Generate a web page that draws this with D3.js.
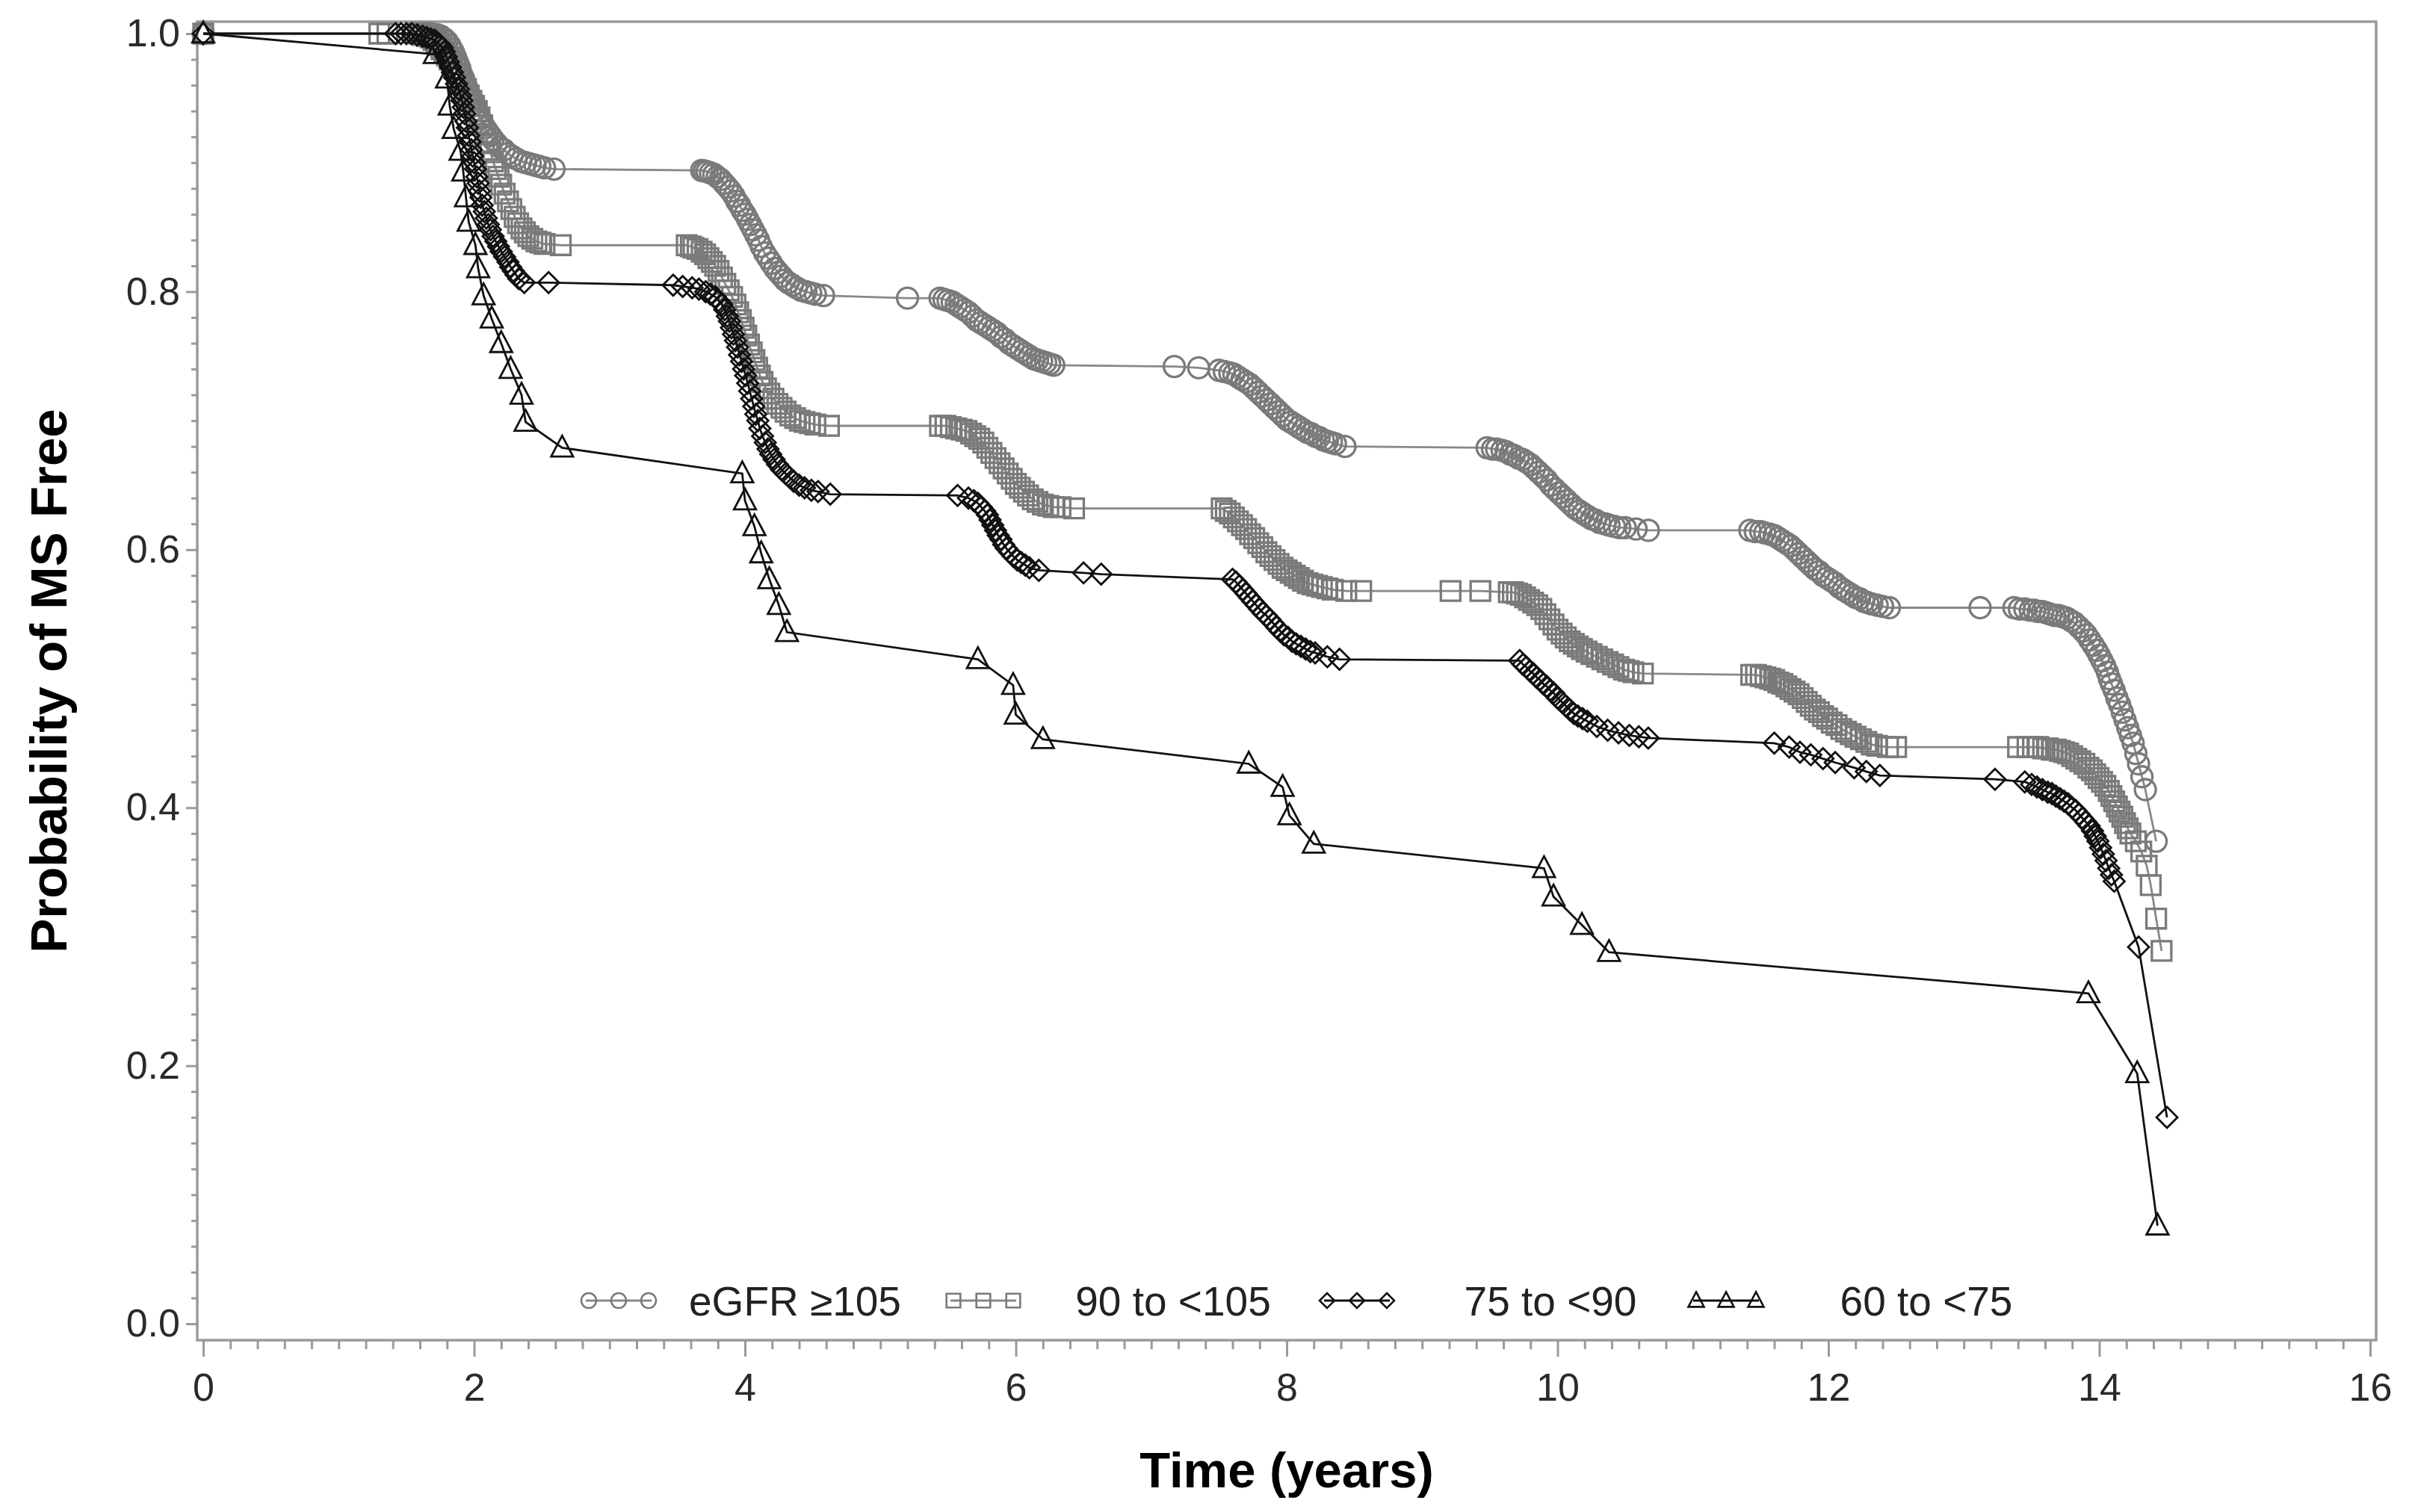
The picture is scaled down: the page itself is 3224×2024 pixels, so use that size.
<!DOCTYPE html>
<html><head><meta charset="utf-8">
<script src="https://cdn.jsdelivr.net/npm/d3@7"></script>
<style>html,body{margin:0;padding:0;background:#fff;}</style>
</head><body>
<svg id="chart" width="3224" height="2024"></svg>
<script>
// ---------------- DATA ----------------
const seriesNames = ["eGFR \u2265105", "90 to <105", "75 to <90", "60 to <75"];
const xTickValues = [0, 2, 4, 6, 8, 10, 12, 14, 16];
const xTickLabels = ["0", "2", "4", "6", "8", "10", "12", "14", "16"];
const yTickValues = [0, 0.2, 0.4, 0.6, 0.8, 1.0];
const yTickLabels = ["0.0", "0.2", "0.4", "0.6", "0.8", "1.0"];
const xTitle = "Time (years)";
const yTitle = "Probability of MS Free";

// [time (years), probability]
const pointsEgfr105 = [
  [0,1.000],
  [1.55,1.000],[1.59,1.000],[1.62,1.000],[1.65,1.000],[1.68,1.000],[1.71,0.999],[1.73,0.999],[1.755,0.998],[1.78,0.996],[1.80,0.994],
  [1.82,0.991],[1.835,0.988],[1.85,0.985],[1.865,0.981],[1.88,0.977],[1.895,0.973],[1.91,0.968],[1.925,0.964],[1.94,0.959],[1.955,0.956],
  [1.97,0.952],[1.985,0.949],[2.00,0.945],[2.015,0.941],[2.03,0.938],[2.045,0.934],[2.06,0.931],[2.08,0.927],[2.10,0.924],[2.12,0.921],
  [2.14,0.918],[2.165,0.915],[2.19,0.912],[2.22,0.910],[2.25,0.907],[2.28,0.905],[2.31,0.903],[2.345,0.901],[2.38,0.900],[2.415,0.899],
  [2.45,0.898],[2.485,0.897],[2.52,0.896],[2.59,0.895],
  [3.68,0.894],[3.70,0.8935],[3.72,0.893],[3.745,0.892],[3.77,0.891],[3.795,0.889],[3.82,0.887],[3.845,0.884],[3.87,0.881],[3.895,0.878],
  [3.92,0.874],[3.94,0.870],[3.96,0.867],[3.98,0.863],[4.00,0.860],[4.02,0.856],[4.04,0.852],[4.06,0.848],[4.08,0.844],[4.10,0.840],
  [4.12,0.835],[4.145,0.830],[4.17,0.826],[4.195,0.822],[4.22,0.818],[4.245,0.815],[4.27,0.812],[4.295,0.809],[4.32,0.807],[4.35,0.805],
  [4.38,0.803],[4.415,0.801],[4.45,0.800],[4.485,0.799],[4.52,0.798],[4.58,0.797],
  [5.20,0.795],[5.44,0.795],[5.47,0.794],[5.50,0.793],[5.53,0.792],[5.56,0.790],[5.59,0.788],[5.62,0.786],[5.65,0.784],[5.68,0.781],
  [5.71,0.778],[5.74,0.776],[5.77,0.774],[5.80,0.772],[5.83,0.770],[5.86,0.768],[5.89,0.765],[5.92,0.763],[5.95,0.760],[5.98,0.758],
  [6.01,0.756],[6.04,0.754],[6.07,0.752],[6.10,0.750],[6.13,0.748],[6.16,0.747],[6.19,0.746],[6.22,0.745],[6.25,0.744],[6.28,0.743],
  [7.17,0.742],[7.35,0.741],[7.50,0.739],[7.54,0.738],[7.58,0.737],[7.61,0.736],[7.64,0.734],[7.67,0.732],[7.70,0.730],[7.73,0.728],
  [7.76,0.725],[7.79,0.722],[7.82,0.719],[7.85,0.716],[7.88,0.713],[7.91,0.710],[7.94,0.707],[7.97,0.704],[8.00,0.701],[8.03,0.699],
  [8.06,0.697],[8.09,0.695],[8.12,0.693],[8.15,0.691],[8.18,0.690],[8.21,0.688],[8.24,0.687],[8.27,0.685],[8.30,0.684],[8.33,0.683],
  [8.36,0.682],[8.43,0.680],
  [9.48,0.679],[9.52,0.678],[9.55,0.678],[9.59,0.677],[9.62,0.676],[9.65,0.674],[9.68,0.673],[9.71,0.671],[9.74,0.670],[9.77,0.668],
  [9.80,0.666],[9.83,0.663],[9.86,0.660],[9.89,0.657],[9.92,0.654],[9.95,0.650],[9.98,0.647],[10.01,0.644],[10.04,0.641],[10.07,0.638],
  [10.10,0.635],[10.13,0.632],[10.16,0.630],[10.19,0.628],[10.22,0.626],[10.25,0.624],[10.28,0.623],[10.31,0.621],[10.35,0.620],
  [10.38,0.619],[10.42,0.618],[10.46,0.617],[10.50,0.617],[10.58,0.616],[10.67,0.615],
  [11.42,0.615],[11.46,0.614],[11.50,0.614],[11.53,0.613],[11.57,0.612],[11.60,0.611],[11.63,0.609],[11.66,0.607],[11.69,0.605],
  [11.72,0.603],[11.75,0.600],[11.78,0.597],[11.81,0.594],[11.84,0.591],[11.87,0.588],[11.90,0.585],[11.93,0.583],[11.96,0.580],
  [11.99,0.578],[12.02,0.576],[12.05,0.574],[12.08,0.571],[12.11,0.569],[12.14,0.567],[12.17,0.565],[12.20,0.563],[12.23,0.562],
  [12.26,0.560],[12.29,0.559],[12.32,0.558],[12.36,0.557],[12.40,0.556],[12.45,0.555],
  [13.12,0.555],[13.37,0.555],[13.41,0.554],[13.45,0.554],[13.49,0.553],[13.52,0.553],[13.55,0.552],[13.58,0.552],[13.61,0.551],
  [13.64,0.550],[13.67,0.549],[13.70,0.549],[13.73,0.548],[13.76,0.547],[13.79,0.545],[13.82,0.543],[13.85,0.540],[13.88,0.537],
  [13.905,0.534],[13.93,0.530],[13.955,0.526],[13.98,0.522],[14.00,0.518],[14.02,0.514],[14.04,0.510],[14.06,0.505],[14.075,0.500],
  [14.09,0.496],[14.11,0.491],[14.13,0.485],[14.15,0.480],[14.17,0.474],[14.19,0.468],[14.21,0.462],[14.23,0.456],[14.25,0.450],
  [14.27,0.442],[14.29,0.434],[14.315,0.424],[14.34,0.414],[14.42,0.374]
];
const points90to105 = [
  [0,1.000],[1.30,1.000],[1.36,1.000],[1.62,0.999],[1.65,0.998],[1.68,0.997],[1.70,0.995],[1.72,0.993],[1.74,0.991],[1.76,0.988],
  [1.78,0.986],[1.80,0.983],[1.82,0.980],[1.84,0.976],[1.86,0.973],[1.88,0.969],[1.90,0.965],[1.92,0.961],[1.94,0.957],[1.96,0.952],
  [1.98,0.948],[2.00,0.944],[2.02,0.940],[2.04,0.935],[2.06,0.929],[2.08,0.922],[2.10,0.915],[2.12,0.908],[2.14,0.901],[2.16,0.895],
  [2.18,0.889],[2.20,0.883],[2.225,0.876],[2.25,0.870],[2.275,0.864],[2.30,0.858],[2.325,0.853],[2.35,0.849],[2.375,0.846],[2.40,0.843],
  [2.43,0.841],[2.46,0.839],[2.49,0.838],[2.52,0.837],[2.64,0.836],
  [3.57,0.836],[3.60,0.835],[3.62,0.834],[3.65,0.833],[3.68,0.831],[3.705,0.829],[3.73,0.826],[3.755,0.823],[3.78,0.820],[3.805,0.816],
  [3.83,0.811],[3.855,0.806],[3.88,0.801],[3.905,0.796],[3.93,0.790],[3.95,0.784],[3.97,0.778],[3.99,0.772],[4.01,0.766],[4.03,0.759],
  [4.05,0.753],[4.07,0.747],[4.09,0.741],[4.11,0.735],[4.13,0.730],[4.155,0.725],[4.18,0.721],[4.21,0.717],[4.24,0.713],[4.27,0.710],
  [4.30,0.707],[4.335,0.704],[4.37,0.702],[4.405,0.700],[4.44,0.699],[4.48,0.698],[4.52,0.697],[4.62,0.696],
  [5.44,0.696],[5.48,0.696],[5.52,0.695],[5.56,0.694],[5.60,0.693],[5.635,0.692],[5.67,0.690],[5.70,0.688],[5.73,0.686],[5.76,0.683],
  [5.79,0.679],[5.82,0.675],[5.85,0.671],[5.88,0.667],[5.91,0.663],[5.94,0.659],[5.97,0.655],[6.00,0.651],[6.03,0.648],[6.06,0.645],
  [6.09,0.642],[6.125,0.639],[6.16,0.637],[6.20,0.635],[6.24,0.634],[6.28,0.633],[6.33,0.633],[6.43,0.632],
  [7.52,0.632],[7.55,0.630],[7.58,0.628],[7.61,0.625],[7.64,0.622],[7.67,0.619],[7.70,0.616],[7.73,0.612],[7.76,0.609],[7.79,0.605],
  [7.82,0.602],[7.85,0.598],[7.88,0.595],[7.91,0.592],[7.94,0.589],[7.97,0.586],[8.00,0.584],[8.03,0.582],[8.06,0.580],[8.09,0.578],
  [8.12,0.576],[8.155,0.574],[8.19,0.573],[8.225,0.572],[8.26,0.571],[8.30,0.570],[8.34,0.569],[8.44,0.568],[8.55,0.568],
  [9.21,0.568],[9.43,0.568],[9.64,0.567],[9.67,0.567],[9.70,0.566],[9.73,0.565],[9.76,0.563],[9.79,0.561],[9.82,0.559],[9.85,0.557],
  [9.88,0.554],[9.91,0.550],[9.94,0.546],[9.97,0.542],[10.00,0.538],[10.03,0.535],[10.06,0.532],[10.09,0.529],[10.12,0.527],[10.15,0.525],
  [10.18,0.523],[10.215,0.521],[10.25,0.519],[10.29,0.517],[10.33,0.515],[10.37,0.513],[10.41,0.511],[10.45,0.509],[10.49,0.507],
  [10.525,0.506],[10.56,0.505],[10.63,0.504],
  [11.43,0.503],[11.465,0.503],[11.50,0.502],[11.535,0.501],[11.57,0.500],[11.60,0.499],[11.63,0.497],[11.66,0.496],[11.69,0.494],
  [11.72,0.492],[11.75,0.490],[11.78,0.488],[11.81,0.485],[11.84,0.482],[11.87,0.479],[11.90,0.476],[11.93,0.474],[11.96,0.471],
  [11.99,0.469],[12.025,0.466],[12.06,0.464],[12.095,0.461],[12.13,0.459],[12.165,0.457],[12.20,0.455],[12.24,0.453],[12.28,0.451],
  [12.32,0.449],[12.36,0.448],[12.44,0.447],[12.50,0.447],
  [13.40,0.447],[13.47,0.447],[13.51,0.447],[13.55,0.447],[13.585,0.446],[13.62,0.446],[13.65,0.445],[13.68,0.445],[13.71,0.444],
  [13.74,0.443],[13.77,0.442],[13.80,0.440],[13.83,0.438],[13.86,0.436],[13.89,0.434],[13.92,0.431],[13.945,0.429],[13.97,0.426],
  [13.995,0.423],[14.02,0.420],[14.045,0.417],[14.07,0.413],[14.09,0.409],[14.11,0.405],[14.13,0.401],[14.15,0.397],[14.17,0.393],
  [14.19,0.388],[14.21,0.384],[14.23,0.380],[14.27,0.374],[14.31,0.366],[14.35,0.355],[14.38,0.340],[14.42,0.314],[14.46,0.289]
];
const points75to90 = [
  [0,1.000],[1.42,1.000],[1.46,1.000],[1.50,1.000],[1.54,1.000],[1.58,0.999],[1.62,0.998],[1.65,0.997],[1.68,0.996],[1.71,0.995],
  [1.73,0.993],[1.75,0.991],[1.765,0.989],[1.78,0.986],[1.795,0.982],[1.81,0.978],[1.825,0.974],[1.84,0.970],[1.855,0.966],[1.87,0.961],
  [1.885,0.957],[1.90,0.952],[1.91,0.948],[1.92,0.943],[1.93,0.938],[1.94,0.932],[1.95,0.927],[1.96,0.921],[1.97,0.916],[1.98,0.910],
  [1.99,0.905],[2.00,0.900],[2.01,0.895],[2.02,0.889],[2.03,0.884],[2.04,0.878],[2.05,0.873],[2.06,0.867],[2.075,0.862],[2.09,0.857],
  [2.105,0.852],[2.12,0.848],[2.14,0.843],[2.16,0.839],[2.18,0.835],[2.20,0.831],[2.225,0.827],[2.25,0.823],[2.27,0.819],[2.29,0.816],
  [2.31,0.813],[2.33,0.810],[2.37,0.807],[2.55,0.807],
  [3.47,0.805],[3.54,0.804],[3.61,0.803],[3.66,0.802],[3.71,0.800],[3.745,0.798],[3.78,0.796],[3.805,0.793],[3.83,0.790],[3.85,0.786],
  [3.87,0.781],[3.885,0.777],[3.90,0.772],[3.915,0.767],[3.93,0.762],[3.945,0.757],[3.96,0.751],[3.975,0.746],[3.99,0.740],[4.005,0.735],
  [4.02,0.729],[4.035,0.723],[4.05,0.717],[4.065,0.711],[4.08,0.705],[4.095,0.700],[4.11,0.694],[4.13,0.688],[4.15,0.683],[4.17,0.678],
  [4.19,0.674],[4.215,0.670],[4.24,0.666],[4.27,0.662],[4.30,0.659],[4.33,0.656],[4.36,0.653],[4.40,0.650],[4.44,0.648],[4.49,0.646],
  [4.54,0.645],[4.63,0.643],
  [5.57,0.642],[5.65,0.640],[5.69,0.638],[5.72,0.636],[5.745,0.633],[5.77,0.630],[5.79,0.627],[5.81,0.623],[5.83,0.619],[5.85,0.615],
  [5.87,0.611],[5.89,0.608],[5.91,0.604],[5.93,0.601],[5.955,0.598],[5.98,0.595],[6.01,0.592],[6.04,0.590],[6.07,0.588],[6.10,0.586],
  [6.17,0.584],[6.50,0.582],[6.63,0.581],
  [7.60,0.577],[7.625,0.575],[7.65,0.572],[7.675,0.569],[7.70,0.566],[7.725,0.563],[7.75,0.560],[7.775,0.557],[7.80,0.554],[7.825,0.551],
  [7.85,0.549],[7.875,0.546],[7.90,0.543],[7.925,0.540],[7.95,0.537],[7.98,0.534],[8.01,0.532],[8.04,0.529],[8.07,0.527],[8.105,0.525],
  [8.14,0.523],[8.175,0.521],[8.21,0.520],[8.30,0.517],[8.39,0.515],
  [9.72,0.514],[9.745,0.511],[9.77,0.509],[9.795,0.506],[9.82,0.504],[9.845,0.501],[9.87,0.499],[9.895,0.496],[9.92,0.494],[9.945,0.491],
  [9.97,0.489],[10.00,0.485],[10.03,0.482],[10.06,0.479],[10.09,0.476],[10.12,0.473],[10.15,0.471],[10.185,0.469],[10.22,0.467],
  [10.29,0.463],[10.37,0.460],[10.45,0.458],[10.53,0.456],[10.60,0.455],[10.67,0.454],
  [11.60,0.450],[11.71,0.447],[11.79,0.443],[11.87,0.441],[11.96,0.438],[12.05,0.435],[12.19,0.431],[12.28,0.428],[12.38,0.425],
  [13.23,0.422],[13.45,0.420],[13.50,0.418],[13.54,0.416],[13.58,0.414],[13.62,0.412],[13.65,0.411],[13.68,0.409],[13.71,0.407],
  [13.74,0.405],[13.77,0.403],[13.80,0.400],[13.825,0.398],[13.85,0.395],[13.875,0.392],[13.90,0.389],[13.925,0.386],[13.95,0.382],
  [13.97,0.378],[13.99,0.374],[14.01,0.369],[14.03,0.364],[14.05,0.359],[14.07,0.353],[14.09,0.348],[14.11,0.343],[14.29,0.292],[14.50,0.160]
];
const points60to75 = [
  [0,1.000],[1.71,0.984],[1.80,0.965],[1.82,0.944],[1.85,0.926],[1.90,0.909],[1.92,0.893],[1.94,0.873],[1.96,0.854],
  [2.01,0.836],[2.03,0.818],[2.07,0.797],[2.13,0.779],[2.20,0.760],[2.27,0.740],[2.35,0.720],[2.38,0.699],[2.65,0.679],
  [3.98,0.659],[4.00,0.638],[4.07,0.618],[4.12,0.597],[4.18,0.577],[4.25,0.557],[4.31,0.536],
  [5.72,0.515],[5.98,0.495],[6.00,0.472],[6.20,0.453],
  [7.72,0.434],[7.97,0.416],[8.02,0.394],[8.20,0.372],
  [9.90,0.353],[9.97,0.331],[10.18,0.309],[10.38,0.288],
  [13.92,0.256],[14.28,0.194],[14.43,0.076]
];

// ---------------- STYLE / LAYOUT ----------------
const seriesStyle = [
  {shape: "circle",   color: "#7a7a7a", line: "#888888", sw: 3.3},
  {shape: "square",   color: "#7a7a7a", line: "#888888", sw: 3.3},
  {shape: "diamond",  color: "#111111", line: "#111111", sw: 2.8},
  {shape: "triangle", color: "#111111", line: "#111111", sw: 2.8}
];
const seriesPoints = [pointsEgfr105, points90to105, points75to90, points60to75];

const W = 3224, H = 2024;
const frame = {left: 264, right: 3180, top: 29, bottom: 1794};
const x = d3.scaleLinear().domain([0, 16]).range([272, 3172]);
const y = d3.scaleLinear().domain([0, 1]).range([1772, 45]);
const FONT = "'Liberation Sans', Arial, Helvetica, sans-serif";
const axisGray = "#9a9a9a";

const svg = d3.select("#chart");
svg.append("rect").attr("width", W).attr("height", H).attr("fill", "#fff");

function shapePath(shape, s) {
  const h = s / 2;
  if (shape === "circle") return d3.symbol().type(d3.symbolCircle).size(Math.PI * h * h)();
  if (shape === "square") { const q = h * 0.93; return `M${-q},${-q}H${q}V${q}H${-q}Z`; }
  if (shape === "diamond") return `M0,${-h}L${h},0L0,${h}L${-h},0Z`;
  if (shape === "triangle") { const a = h * 1.05; return `M0,${-a * 1.1}L${a},${a * 0.8}L${-a},${a * 0.8}Z`; }
}

// ---------------- AXES ----------------
const minorX = d3.range(0, 16.001, 0.2).filter(v => Math.abs(v / 2 - Math.round(v / 2)) > 1e-6);
const minorY = d3.range(0, 1.0001, 0.02).filter(v => Math.abs(v / 0.2 - Math.round(v / 0.2)) > 1e-6);

const gx = svg.append("g").attr("transform", `translate(0,${frame.bottom})`);
gx.call(d3.axisBottom(x).tickValues(minorX).tickSize(12).tickFormat(""));
gx.append("g").call(d3.axisBottom(x).tickValues(xTickValues).tickSize(22).tickPadding(22)
  .tickFormat((d, i) => xTickLabels[i]));
gx.selectAll(".domain").remove();
gx.selectAll("line").attr("stroke", axisGray).attr("stroke-width", 3);
gx.selectAll("text").attr("font-family", FONT).attr("font-size", 52).attr("fill", "#2a2a2a");

const gy = svg.append("g").attr("transform", `translate(${frame.left},0)`);
gy.call(d3.axisLeft(y).tickValues(minorY).tickSize(8).tickFormat(""));
gy.append("g").call(d3.axisLeft(y).tickValues(yTickValues).tickSize(15).tickPadding(8)
  .tickFormat((d, i) => yTickLabels[i]));
gy.selectAll(".domain").remove();
gy.selectAll("line").attr("stroke", axisGray).attr("stroke-width", 3);
gy.selectAll("text").attr("font-family", FONT).attr("font-size", 52).attr("fill", "#2a2a2a");

// frame
svg.append("rect")
  .attr("x", frame.left).attr("y", frame.top)
  .attr("width", frame.right - frame.left).attr("height", frame.bottom - frame.top)
  .attr("fill", "none").attr("stroke", axisGray).attr("stroke-width", 3.5);

// titles
svg.append("text").attr("x", (frame.left + frame.right) / 2).attr("y", 1991)
  .attr("text-anchor", "middle").attr("font-family", FONT).attr("font-weight", "bold")
  .attr("font-size", 67).attr("fill", "#000").text(xTitle);
svg.append("text").attr("transform", `translate(89,${(frame.top + frame.bottom) / 2}) rotate(-90)`)
  .attr("text-anchor", "middle").attr("font-family", FONT).attr("font-weight", "bold")
  .attr("font-size", 69).attr("fill", "#000").text(yTitle);

// ---------------- SERIES ----------------
const line = d3.line().x(d => x(d[0])).y(d => y(d[1]));
const plot = svg.append("g");
seriesPoints.forEach((pts, i) => {
  const st = seriesStyle[i];
  const g = plot.append("g");
  g.append("path").datum(pts).attr("d", line)
    .attr("fill", "none").attr("stroke", st.line).attr("stroke-width", 2.8);
  g.selectAll("path.m").data(pts).join("path").attr("class", "m")
    .attr("transform", d => `translate(${x(d[0])},${y(d[1])})`)
    .attr("d", shapePath(st.shape, 28))
    .attr("fill", "none").attr("stroke", st.color).attr("stroke-width", st.sw);
});

// ---------------- LEGEND ----------------
const legendSymbolX = [828, 1316, 1816, 2310];
const legendTextCenterX = [1064, 1570, 2075, 2578];
const legendY = 1741;
const lg = svg.append("g");
seriesNames.forEach((name, i) => {
  const st = seriesStyle[i];
  const cx = legendSymbolX[i];
  lg.append("line").attr("x1", cx - 44).attr("x2", cx + 44).attr("y1", legendY).attr("y2", legendY)
    .attr("stroke", st.line).attr("stroke-width", 2.8);
  [-40, 0, 40].forEach(dx => {
    lg.append("path").attr("transform", `translate(${cx + dx},${legendY})`)
      .attr("d", shapePath(st.shape, 20)).attr("fill", "none")
      .attr("stroke", st.color).attr("stroke-width", 2.6);
  });
  lg.append("text").attr("x", legendTextCenterX[i]).attr("y", legendY + 20)
    .attr("text-anchor", "middle").attr("font-family", FONT).attr("font-size", 55)
    .attr("fill", "#222").text(name);
});
</script>
</body></html>
